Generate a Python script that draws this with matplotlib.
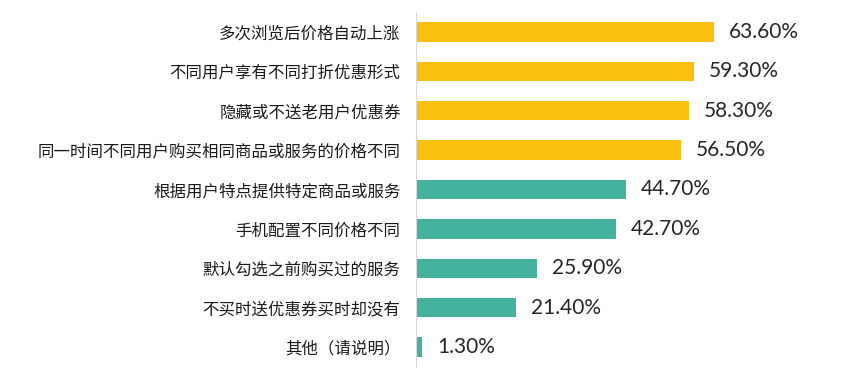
import matplotlib.pyplot as plt

plt.rcParams['font.family'] = ['Noto Sans CJK SC', 'DejaVu Sans']

labels = ["多次浏览后价格自动上涨", "不同用户享有不同打折优惠形式", "隐藏或不送老用户优惠券",
          "同一时间不同用户购买相同商品或服务的价格不同", "根据用户特点提供特定商品或服务",
          "手机配置不同价格不同", "默认勾选之前购买过的服务", "不买时送优惠券买时却没有",
          "其他（请说明）"]
values = [63.6, 59.3, 58.3, 56.5, 44.7, 42.7, 25.9, 21.4, 1.3]
gold = "#FAC010"
teal = "#45B29D"
colors = [gold] * 4 + [teal] * 5

fig = plt.figure(figsize=(8.66, 3.82), dpi=100)
ax = fig.add_axes([416 / 866, 0.040, 1 - 416 / 866, 0.928])

y = list(range(len(values)))
ax.barh(y, values, height=0.49, color=colors)
ax.set_ylim(len(values) - 0.5, -0.5)
ax.set_xlim(0, 96)

for i, v in enumerate(values):
    ax.text(v + 3.2, i, "%.2f%%" % v, va="center", ha="left",
            fontsize=15, family=["Lato", "DejaVu Sans"], color="#262626")

ax.set_yticks(y)
ax.set_yticklabels(labels, fontsize=11.85, color="#1a1a1a", weight="medium")
ax.tick_params(axis="y", length=0, pad=11)
ax.set_xticks([])
for s in ["top", "right", "bottom"]:
    ax.spines[s].set_visible(False)
ax.spines["left"].set_color("#D9D9D9")

fig.savefig("out.png", dpi=100)
